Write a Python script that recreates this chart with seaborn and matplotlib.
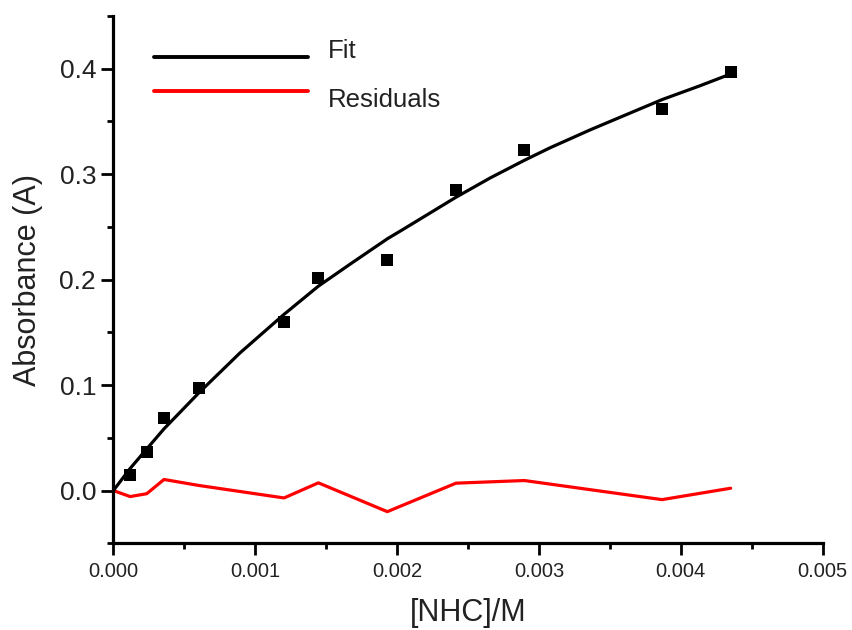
import matplotlib
matplotlib.use("Agg")
import matplotlib.pyplot as plt
import matplotlib.transforms as mtransforms
from matplotlib.ticker import MultipleLocator, FormatStrFormatter
import seaborn as sns
import pandas as pd

# ---- data ----
conc = [0.000118, 0.000235, 0.000357, 0.000604, 0.001203, 0.001445,
        0.001931, 0.002415, 0.002897, 0.003867, 0.004351]
absorbance = [0.0152, 0.0364, 0.0690, 0.0976, 0.1600, 0.2010,
              0.2186, 0.2850, 0.3225, 0.3619, 0.3970]

fit_x = [0.0, 0.000118, 0.000235, 0.000357, 0.000604, 0.000893, 0.001203,
         0.001445, 0.001668, 0.001931, 0.002042, 0.002415, 0.002655,
         0.002897, 0.003077, 0.00336, 0.003867, 0.004134, 0.004351]
fit_y = [0.0, 0.0209, 0.0394, 0.0585, 0.0928, 0.1305, 0.1670,
         0.1937, 0.2145, 0.2386, 0.2475, 0.2780, 0.2962,
         0.3130, 0.3248, 0.3418, 0.3705, 0.3836, 0.3948]

resid_x = [0.0, 0.000118, 0.000235, 0.000357, 0.000604, 0.001203, 0.001445,
           0.001931, 0.002415, 0.002897, 0.003867, 0.004351]
resid_y = [0.0, -0.0057, -0.0030, 0.0105, 0.0048, -0.0070, 0.0073,
           -0.0200, 0.0070, 0.0095, -0.0086, 0.0022]

x_label = "[NHC]/M"
y_label = "Absorbance (A)"

df_pts = pd.DataFrame({"x": conc, "y": absorbance})
df_fit = pd.DataFrame({"x": fit_x, "y": fit_y})
df_res = pd.DataFrame({"x": resid_x, "y": resid_y})

sns.set_theme(style="ticks")
plt.rcParams["font.family"] = ["Liberation Sans", "DejaVu Sans"]

fig = plt.figure(figsize=(8.53, 6.30), dpi=100)
ax = fig.add_axes([0.1329, 0.1376, 0.8316, 0.8374])

sns.lineplot(data=df_fit, x="x", y="y", color="black", linewidth=2.3,
             label="Fit", ax=ax, sort=False, zorder=3)
sns.lineplot(data=df_res, x="x", y="y", color="#ff0000", linewidth=2.3,
             label="Residuals", ax=ax, sort=False, zorder=2)
sns.scatterplot(data=df_pts, x="x", y="y", marker="s", s=75, color="black",
                edgecolor="none", linewidth=0, ax=ax, zorder=4, legend=False)

ax.set_xlim(0, 0.005)
ax.set_ylim(-0.05, 0.45)
ax.xaxis.set_major_locator(MultipleLocator(0.001))
ax.xaxis.set_minor_locator(MultipleLocator(0.0005))
ax.yaxis.set_major_locator(MultipleLocator(0.1))
ax.yaxis.set_minor_locator(MultipleLocator(0.05))
ax.xaxis.set_major_formatter(FormatStrFormatter("%.3f"))
ax.yaxis.set_major_formatter(FormatStrFormatter("%.1f"))

for s in ["top", "right"]:
    ax.spines[s].set_visible(False)
for s in ["left", "bottom"]:
    ax.spines[s].set_linewidth(2.3)
    ax.spines[s].set_color("black")

ax.tick_params(axis="both", which="major", direction="out", length=8.5,
               width=2.0, color="black")
ax.tick_params(axis="both", which="minor", direction="out", length=4.5,
               width=2.0, color="black")
ax.tick_params(axis="x", which="major", labelsize=14.5, pad=5, labelcolor="#222222")
ax.tick_params(axis="y", which="major", labelsize=19, pad=4, labelcolor="#222222")

ax.set_xlabel(x_label, fontsize=22, labelpad=12, color="#222222")
ax.set_ylabel(y_label, fontsize=22, labelpad=12, color="#222222")

leg = ax.legend(loc="upper left", bbox_to_anchor=(0.0575, 0.94), frameon=False,
                fontsize=18.5, handlelength=6.0, handletextpad=0.75,
                labelspacing=0.37, borderpad=0.0, borderaxespad=0.0)
for line in leg.get_lines():
    line.set_linewidth(2.8)
texts = leg.get_texts()
offsets = [8, -7]
for t, dy in zip(texts, offsets):
    t.set_color("#222222")
    t.set_transform(t.get_transform() +
                    mtransforms.Affine2D().translate(0, dy))

fig.savefig("out.png", dpi=100)
